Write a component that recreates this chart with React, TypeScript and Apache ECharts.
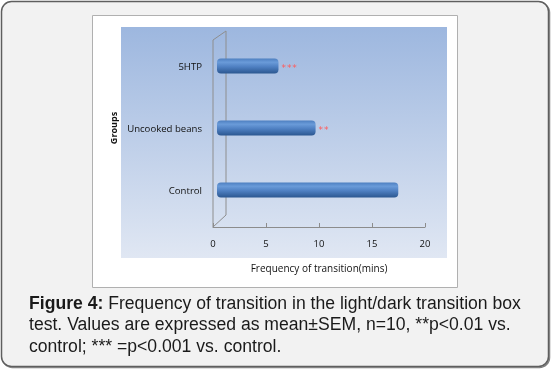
import React, { useEffect, useRef } from "react";
import * as echarts from "echarts";

const categories = ["Control", "Uncooked beans", "5HTP"];
const values = [17.1, 9.3, 5.8];
const significance = ["", "*\u200a*", "*\u200a*\u200a*"];
const xTicks = { min: 0, max: 20, interval: 5 };
const xTitle = "Frequency of transition(mins)";
const yTitle = "Groups";
const captionBold = "Figure 4:";
const captionLines = [
  " Frequency of transition in the light/dark transition box",
  "test. Values are expressed as mean\u00b1SEM, n=10, **p<0.01 vs.",
  "control; *** =p<0.001 vs. control.",
];

export default function App() {
  const ref = useRef<HTMLDivElement>(null);
  useEffect(() => {
    if (!ref.current) return;
    const chart = echarts.init(ref.current, undefined, { renderer: "svg" });
    const lblFont = "Open Sans";
    const capFont = "'Liberation Sans', Arial, sans-serif";
    chart.setOption({
      animation: false,
      backgroundColor: "transparent",
      grid: [
        { left: 213, top: 35, width: 212, height: 192 },
        { left: 217, top: 35, width: 212, height: 186 },
      ],
      xAxis: [
        {
          gridIndex: 0,
          type: "value",
          min: xTicks.min,
          max: xTicks.max,
          interval: xTicks.interval,
          axisLine: { show: true, lineStyle: { color: "#8c8c8c", width: 1 } },
          axisTick: { show: true, inside: true, length: 4, lineStyle: { color: "#8c8c8c" } },
          splitLine: { show: false },
          axisLabel: { margin: 11, fontSize: 9.5, color: "#111", fontFamily: lblFont },
          name: xTitle,
          nameLocation: "middle",
          nameGap: 36,
          nameTextStyle: { fontSize: 10, color: "#111", fontFamily: lblFont },
        },
        {
          gridIndex: 1,
          type: "value",
          min: xTicks.min,
          max: xTicks.max,
          interval: xTicks.interval,
          show: false,
        },
      ],
      yAxis: [
        {
          gridIndex: 0,
          type: "category",
          data: categories,
          show: false,
        },
        {
          gridIndex: 1,
          type: "category",
          data: categories,
          axisLine: { show: false },
          axisTick: { show: false },
          axisLabel: { margin: 15, fontSize: 9.6, color: "#111", fontFamily: lblFont },
          name: yTitle,
          nameLocation: "middle",
          nameRotate: 90,
          nameGap: 99,
          nameTextStyle: { fontSize: 9, fontWeight: "bold", color: "#111", fontFamily: lblFont },
        },
      ],
      graphic: [
        {
          type: "rect",
          z: -10,
          shape: { x: 1.5, y: 1.5, width: 547, height: 365, r: 10 },
          style: {
            fill: "#f2f2f2",
            stroke: "#5e5e5e",
            lineWidth: 1.5,
            shadowColor: "rgba(0,0,0,0.5)",
            shadowOffsetX: 1,
            shadowOffsetY: 1,
            shadowBlur: 1,
          },
        },
        {
          type: "rect",
          z: -9,
          shape: { x: 92.5, y: 15.5, width: 365, height: 272 },
          style: { fill: "#ffffff", stroke: "#b0b0b0", lineWidth: 1 },
        },
        {
          type: "rect",
          z: -8,
          shape: { x: 121, y: 27, width: 326, height: 231 },
          style: {
            fill: new echarts.graphic.LinearGradient(0, 0, 0, 1, [
              { offset: 0, color: "#9db7df" },
              { offset: 1, color: "#e0e7f3" },
            ]),
          },
        },
        {
          type: "polyline",
          z: -7,
          shape: {
            points: [
              [213, 227],
              [213, 40],
              [226, 31],
              [226, 215],
              [213, 227],
            ],
          },
          style: { stroke: "#8e8e8e", lineWidth: 1, fill: "none" },
        },
        {
          type: "text",
          z: 5,
          x: 29,
          y: 292,
          style: {
            text:
              "{b|" + captionBold + "}" + captionLines[0] + "\n" + captionLines[1] + "\n" + captionLines[2],
            font: "17.6px " + capFont,
            fill: "#1a1a1a",
            lineHeight: 21.5,
            rich: {
              b: {
                fontWeight: "bold",
                fontSize: 17.6,
                fontFamily: capFont,
                fill: "#1a1a1a",
                lineHeight: 21.5,
              },
            },
          },
        },
      ],
      series: [
        {
          type: "bar",
          xAxisIndex: 1,
          yAxisIndex: 1,
          data: values,
          barWidth: 15,
          itemStyle: {
            borderRadius: 4,
            color: new echarts.graphic.LinearGradient(0, 0, 0, 1, [
              { offset: 0, color: "#4d7fc0" },
              { offset: 0.25, color: "#6a9bd9" },
              { offset: 0.55, color: "#4f80c2" },
              { offset: 1, color: "#2b5790" },
            ]),
          },
          label: {
            show: true,
            position: "right",
            distance: 3,
            offset: [0, 2],
            formatter: (p: any) => significance[p.dataIndex],
            color: "#ff5b5b",
            fontSize: 9,
            fontFamily: "DejaVu Sans",
          },
        },
      ],
    });
    return () => chart.dispose();
  }, []);
  return (
    <div
      ref={ref}
      style={{ position: "fixed", left: 0, top: 0, width: 551, height: 369 }}
    />
  );
}
